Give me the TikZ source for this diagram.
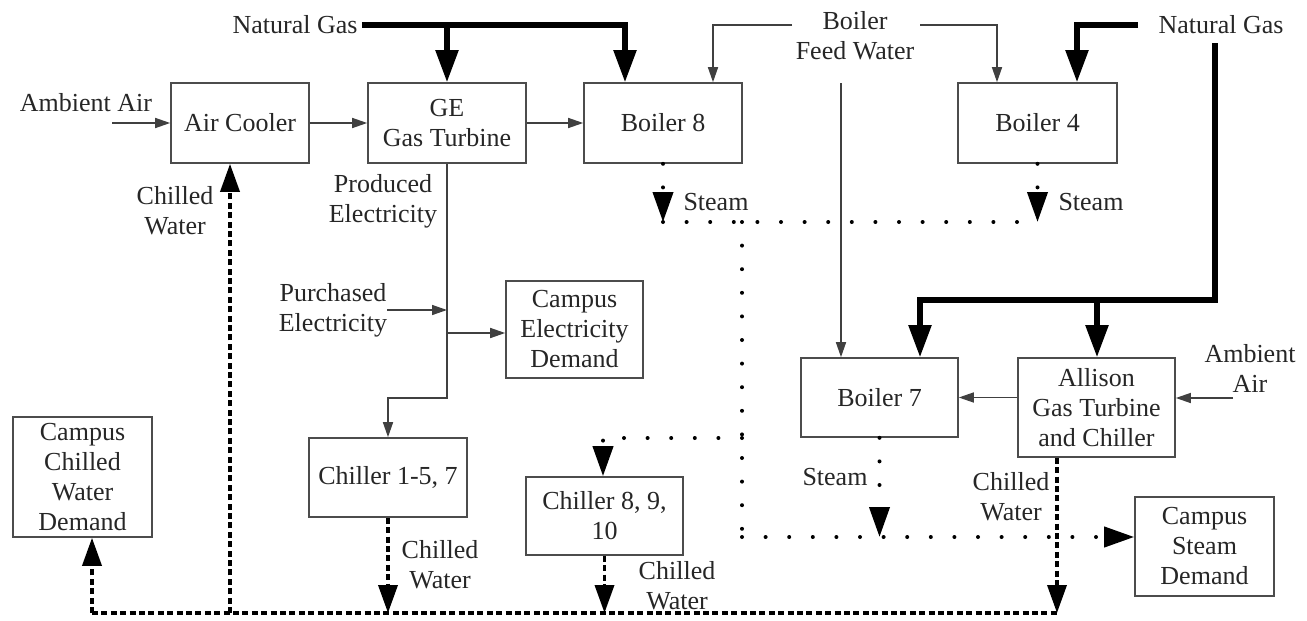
\documentclass[tikz,border=0pt]{standalone}
\usepackage{fontspec}
\setmainfont{Liberation Serif}
\usetikzlibrary{arrows.meta}
\begin{document}
\begin{tikzpicture}[x=0.5pt,y=-0.5pt,
  every node/.style={font=\fontsize{13pt}{15pt}\selectfont, text=black!85, align=center, inner sep=2pt},
  box/.style={draw=black!70, line width=0.8pt},
  thinln/.style={draw=black!75, line width=0.75pt},
  thinarr/.style={thinln, -{Triangle[width=5pt,length=7.5pt]}},
  gasln/.style={draw=black, line width=2.6pt},
  gasarr/.style={gasln, -{Triangle[width=11pt,length=16pt]}},
  steamln/.style={draw=black, line width=2pt, line cap=round, dash pattern=on 0pt off 11.8pt},
  steamarr/.style={steamln, -{Triangle[width=10pt,length=15pt]}},
  cwln/.style={draw=black, line width=1.8pt, dash pattern=on 3pt off 1.7pt},
  cwarr/.style={cwln, -{Triangle[width=9.5pt,length=14pt]}},
]
\useasboundingbox (0,0) rectangle (1307,621);
% boxes
\node[box, minimum width=69pt, minimum height=40pt] (ac) at (240,123) {Air Cooler};
\node[box, minimum width=79pt, minimum height=40pt] (ge) at (447,123) {GE\\Gas Turbine};
\node[box, minimum width=79pt, minimum height=40pt] (b8) at (663,123) {Boiler 8};
\node[box, minimum width=79.5pt, minimum height=40pt] (b4) at (1037.5,123) {Boiler 4};
\node[box, minimum width=78.5pt, minimum height=39.5pt] (b7) at (879.5,397.5) {Boiler 7};
\node[box, minimum width=78.5pt, minimum height=49.5pt] (al) at (1096.5,407.5) {Allison\\Gas Turbine\\and Chiller};
\node[box, minimum width=69.5pt, minimum height=49.5pt] (csd) at (1204.5,546.5) {Campus\\Steam\\Demand};
\node[box, minimum width=68.5pt, minimum height=48.5pt] (ced) at (574.5,329.5) {Campus\\Electricity\\Demand};
\node[box, minimum width=78.5pt, minimum height=39pt] (ch8) at (604.5,516) {Chiller 8, 9,\\10};
\node[box, minimum width=79pt, minimum height=39.5pt] (ch1) at (388,477.5) {Chiller 1-5, 7};
\node[box, minimum width=69.5pt, minimum height=60pt, inner sep=0pt] (ccw) at (82.5,477) {Campus\\Chilled\\Water\\Demand};
% labels
\node (ng1) at (295,25) {Natural Gas};
\node (fwt) at (855,36) {Boiler\\Feed Water};
\node (ng2) at (1221,25) {Natural Gas};
\node (aat1) at (86,103) {Ambient Air};
\node (cwt0) at (175,211) {Chilled\\Water};
\node (pet) at (383,201) {Produced\\Electricity};
\node (put) at (333,310) {Purchased\\Electricity};
\node (st8) at (716,202) {Steam};
\node (st4) at (1091,202) {Steam};
\node (st7) at (835,477) {Steam};
\node (cwt3) at (1011,497) {Chilled\\Water};
\node (cwt1) at (440,565) {Chilled\\Water};
\node (cwt2) at (677,586) {Chilled\\Water};
\node (aat2) at (1250,368) {Ambient\\Air};
% coordinates
\coordinate (g1) at (625,25);
\coordinate (gj1) at (447,25);
\coordinate (fw1) at (792,25);
\coordinate (fwc1) at (713,25);
\coordinate (fw2) at (920,25);
\coordinate (fwc2) at (997,25);
\coordinate (fw3) at (841,83);
\coordinate (ng2s) at (1138,25);
\coordinate (ng2c) at (1077,25);
\coordinate (ng3s) at (1215,43);
\coordinate (ng3c) at (1215,300);
\coordinate (ng3l) at (920,300);
\coordinate (ng3j) at (1097,300);
\coordinate (aa1) at (112,123);
\coordinate (aa2) at (1233,398);
\coordinate (pe) at (447,398);
\coordinate (pu1) at (387,310);
\coordinate (pu2) at (447,310);
\coordinate (ej) at (447,333);
\coordinate (s8) at (663,222);
\coordinate (s4) at (1037,222);
\coordinate (sv1) at (742,222);
\coordinate (sv2) at (742,438);
\coordinate (sv3) at (603,438);
\coordinate (sv4) at (742,537);
\coordinate (cwl) at (92,613);
\coordinate (cwa) at (230,613);
\coordinate (cw1) at (388,613);
\coordinate (cwr) at (1057,613);
% natural gas
\draw[gasarr] (ng1.east) -- (g1) -- (g1 |- b8.north);
\draw[gasarr] (gj1) -- (ge.north);
\draw[gasarr] (ng2s) -- (ng2c) -- (ng2c |- b4.north);
\draw[gasarr] (ng3s) -- (ng3c) -- (ng3l) -- (ng3l |- b7.north);
\draw[gasarr] (ng3j) -- (ng3j |- al.north);
% feed water
\draw[thinarr] (fw1) -- (fwc1) -- (fwc1 |- b8.north);
\draw[thinarr] (fw2) -- (fwc2) -- (fwc2 |- b4.north);
\draw[thinarr] (fw3) -- (fw3 |- b7.north);
% air and gas paths
\draw[thinarr] (aa1) -- (ac.west);
\draw[thinarr] (ac.east) -- (ge.west);
\draw[thinarr] (ge.east) -- (b8.west);
\draw[thinarr] (aa2) -- (aa2 -| al.east);
\draw[thinarr] (b7.east -| al.west) -- (b7.east);
% electricity
\draw[thinarr] (ge.south) -- (pe) -| (ch1.north);
\draw[thinarr] (pu1) -- (pu2);
\draw[thinarr] (ej) -- (ej -| ced.west);
% steam
\draw[steamarr] (b8.south) -- (s8);
\draw[steamarr] (b4.south) -- (b4.south |- s4);
\draw[steamln] (s8) -- (s4);
\draw[steamln] (sv1) -- (sv4);
\draw[steamarr] (sv2) -- (sv3) -- (sv3 |- ch8.north);
\draw[steamarr] (sv4) -- (sv4 -| csd.west);
\draw[steamarr] (b7.south) -- (b7.south |- sv4);
% chilled water
\draw[cwln] (cwl) -- (cwr);
\draw[cwarr] (cwl) -- (cwl |- ccw.south);
\draw[cwarr] (cwa) -- (cwa |- ac.south);
\draw[cwarr] (ch1.south) -- (cw1);
\draw[cwarr] (ch8.south) -- (ch8.south |- cwr);
\draw[cwarr] (cwr |- al.south) -- (cwr);
\end{tikzpicture}
\end{document}
